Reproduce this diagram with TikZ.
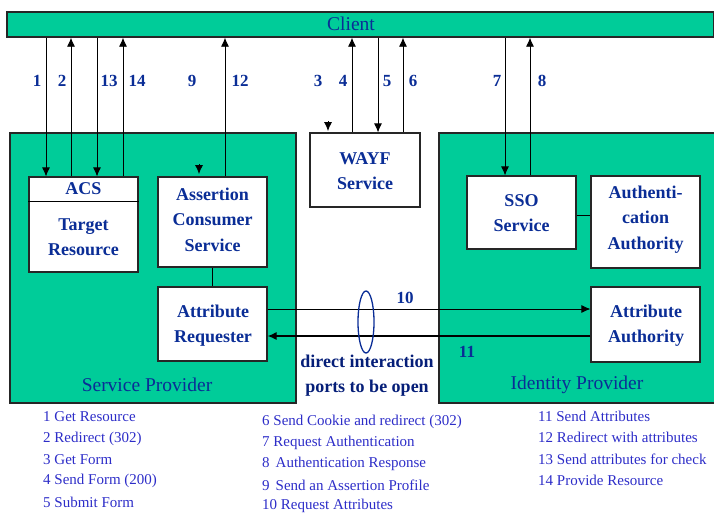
\documentclass[tikz,border=0pt]{standalone}
\usepackage{fontspec}
\setmainfont{Liberation Serif}
\usetikzlibrary{arrows.meta,shapes.geometric}
\definecolor{spgreen}{RGB}{0,204,153}
\definecolor{navy}{RGB}{10,45,150}
\definecolor{darknavy}{RGB}{5,30,120}
\definecolor{legblue}{RGB}{45,45,200}
\tikzset{
  area/.style={draw=black!85, line width=1.3pt, fill=spgreen, inner sep=0pt},
  wbox/.style={draw=black!85, line width=1.2pt, fill=white, inner sep=0pt},
  btxt/.style={text=navy, font=\bfseries\fontsize{18}{25.5}\selectfont, align=center, inner sep=0pt},
  num/.style={text=navy, font=\bfseries\fontsize{17}{18}\selectfont, inner sep=0pt},
  leg/.style={text=legblue, font=\fontsize{15}{16}\selectfont, anchor=west, inner sep=0pt},
  big/.style={text=navy, font=\fontsize{19.5}{20}\selectfont, inner sep=0pt},
  arr/.style={-{Latex[length=9pt,width=8pt]}, line width=0.8pt},
  ln/.style={line width=0.8pt}
}
\begin{document}
\begin{tikzpicture}[x=1pt,y=-1pt]
\useasboundingbox (0,0) rectangle (714,514);
% client bar
\node[area, minimum width=707pt, minimum height=25pt] (client) at (360.5,24.5) {};
\node[big] (clienttxt) at (351,24) {Client};
% main areas
\node[area, minimum width=286pt, minimum height=270pt] (sp) at (153,268) {};
\node[wbox, minimum width=110pt, minimum height=74pt] (wayf) at (365,170) {};
\node[btxt] (wayftxt) at (365,171) {WAYF\\Service};
\node[area, minimum width=280pt, minimum height=270pt] (idp) at (579,268) {};
% SP boxes
\node[wbox, minimum width=109pt, minimum height=95pt] (acs) at (83.5,224.5) {};
\draw[ln] (acs.west |- 0,201) -- (acs.east |- 0,201);
\node[btxt] (acstxt) at (83.5,189) {ACS};
\node[btxt] (tgttxt) at (83.5,237) {Target\\Resource};
\node[wbox, minimum width=109pt, minimum height=90pt] (acsvc) at (212.5,222) {};
\node[btxt] (acsvctxt) at (212.5,219.5) {Assertion\\Consumer\\Service};
\node[wbox, minimum width=109pt, minimum height=74pt] (areq) at (212.5,324) {};
\node[btxt] (areqtxt) at (213,325.5) {Attribute\\Requester};
\draw[ln] (acsvc.south) -- (areq.north);
\node[big] (sptxt) at (147,385) {Service Provider};
% IdP boxes
\node[wbox, minimum width=109pt, minimum height=73pt] (sso) at (521.5,212.5) {};
\node[btxt] (ssotxt) at (521.5,213) {SSO\\Service};
\node[wbox, minimum width=109pt, minimum height=92pt] (authn) at (645.5,222) {};
\node[btxt] (authntxt) at (645.5,219.5) {Authenti-\\cation\\Authority};
\node[wbox, minimum width=109pt, minimum height=75pt] (aa) at (645.5,324.5) {};
\node[btxt] (aatxt) at (646,325.5) {Attribute\\Authority};
\draw[ln] (sso.east |- 0,215) -- (authn.west |- 0,215);
\node[big] (idptxt) at (577,385) {Identity Provider};
% vertical arrow x positions
\coordinate (x1) at (46,0);
\coordinate (x2) at (71,0);
\coordinate (x13) at (97,0);
\coordinate (x14) at (123,0);
\coordinate (x12) at (225,0);
\coordinate (x4) at (352,0);
\coordinate (x5) at (378,0);
\coordinate (x6) at (403,0);
\coordinate (x7) at (505,0);
\coordinate (x8) at (530,0);
\draw[arr] (client.south -| x1) -- (acs.north -| x1);
\draw[arr] (acs.north -| x2) -- (client.south -| x2);
\draw[arr] (client.south -| x13) -- (acs.north -| x13);
\draw[arr] (acs.north -| x14) -- (client.south -| x14);
\draw[arr] (acsvc.north -| x12) -- (client.south -| x12);
\draw[arr] (wayf.north -| x4) -- (client.south -| x4);
\draw[arr] (client.south -| x5) -- (wayf.north -| x5);
\draw[arr] (wayf.north -| x6) -- (client.south -| x6);
\draw[arr] (client.south -| x7) -- (sso.north -| x7);
\draw[arr] (sso.north -| x8) -- (client.south -| x8);
% short arrowheads 9 and 3
\coordinate (a9s) at (199,164);
\coordinate (a9e) at (199,174);
\draw[arr] (a9s) -- (a9e);
\coordinate (a3s) at (328,121);
\coordinate (a3e) at (328,131);
\draw[arr] (a3s) -- (a3e);
% labels
\node[num] (l1) at (37,81) {1};
\node[num] (l2) at (62,81) {2};
\node[num] (l13) at (109,81) {13};
\node[num] (l14) at (137,81) {14};
\node[num] (l9) at (192,81) {9};
\node[num] (l12) at (240,81) {12};
\node[num] (l3) at (318,81) {3};
\node[num] (l4) at (343,81) {4};
\node[num] (l5) at (387,81) {5};
\node[num] (l6) at (413,81) {6};
\node[num] (l7) at (497,81) {7};
\node[num] (l8) at (542,81) {8};
% horizontal arrows 10 and 11
\coordinate (y10) at (0,309);
\coordinate (y11) at (0,336);
\draw[arr] (areq.east |- y10) -- (aa.west |- y10);
\draw[arr, line width=1.2pt] (aa.west |- y11) -- (areq.east |- y11);
\node[draw=navy, line width=1.3pt, ellipse, minimum width=16pt, minimum height=62pt, inner sep=0pt] (ell) at (366,322) {};
\node[num] (l10) at (405,298) {10};
\node[num] (l11) at (467,352) {11};
\node[text=darknavy, font=\bfseries\fontsize{18}{25}\selectfont, align=center, inner sep=0pt] (direct) at (367,376) {direct interaction\\ports to be open};
% legend
\node[leg] (g1) at (43,417) {1 Get Resource};
\node[leg] (g2) at (43,439) {2 Redirect (302)};
\node[leg] (g3) at (43,460) {3 Get Form};
\node[leg] (g4) at (43,481) {4 Send Form (200)};
\node[leg] (g5) at (43,502) {5 Submit Form};
\node[leg] (g6) at (262,422) {6 Send Cookie and redirect (302)};
\node[leg] (g7) at (262,443) {7 Request Authentication};
\node[leg] (g8) at (262,464) {8\hspace{6pt}Authentication Response};
\node[leg] (g9) at (262,485) {9\hspace{6pt}Send an Assertion Profile};
\node[leg] (g10) at (262,506) {10 Request Attributes};
\node[leg] (g11) at (538,416) {11 Send Attributes};
\node[leg] (g12) at (538,437) {12 Redirect with attributes};
\node[leg] (g13) at (538,459) {13 Send attributes for check};
\node[leg] (g14) at (538,480) {14 Provide Resource};
\end{tikzpicture}
\end{document}
